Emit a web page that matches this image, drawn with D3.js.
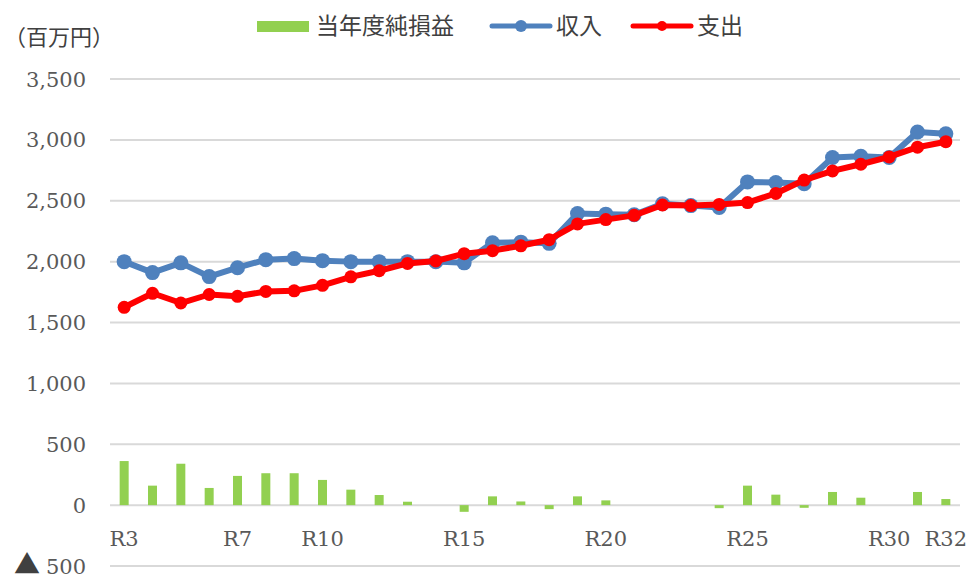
<!DOCTYPE html>
<html>
<head>
<meta charset="utf-8">
<script src="https://cdn.jsdelivr.net/npm/d3@7"></script>
<style>
  body { margin: 0; background: #fff; }
  svg { display: block; }
</style>
</head>
<body>
<div id="chart"></div>
<script>
// categories (fiscal years)
var years = ["R3","R4","R5","R6","R7","R8","R9","R10","R11","R12",
             "R13","R14","R15","R16","R17","R18","R19","R20","R21","R22",
             "R23","R24","R25","R26","R27","R28","R29","R30","R31","R32"];
var xTickLabels = ["R3","R7","R10","R15","R20","R25","R30","R32"];
var yTicks = [-500, 0, 500, 1000, 1500, 2000, 2500, 3000, 3500];

// 収入 (income)
var income = [2000, 1910, 1990, 1877, 1950, 2016, 2025, 2008, 2000, 2000,
              2000, 2000, 1990, 2155, 2160, 2150, 2395, 2390, 2385, 2475,
              2460, 2445, 2655, 2650, 2640, 2855, 2865, 2855, 3065, 3050];
// 支出 (expenditure)
var expense = [1625, 1740, 1660, 1730, 1715, 1755, 1760, 1805, 1875, 1925,
               1985, 2005, 2065, 2090, 2130, 2180, 2310, 2345, 2380, 2465,
               2460, 2470, 2485, 2560, 2670, 2745, 2800, 2860, 2940, 2985];
// 当年度純損益 (net)
var net = [362, 160, 340, 141, 240, 262, 262, 207, 127, 83,
           28, 0, -55, 72, 30, -33, 72, 39, 0, 0,
           0, -25, 160, 86, -22, 108, 61, 0, 108, 50];

var W = 970, H = 574;
var plotLeft = 110, plotRight = 960, plotTop = 79, plotBottom = 566;

var svg = d3.select("#chart").append("svg")
    .attr("width", W).attr("height", H);

var x = d3.scaleBand().domain(years).range([plotLeft, plotRight]);
var y = d3.scaleLinear().domain([-500, 3500]).range([plotBottom, plotTop]);
var cx = d => x(d) + x.bandwidth() / 2;

var serif = "'DejaVu Serif', serif";
var jp = "'Noto Sans CJK JP', sans-serif";

// grid
svg.append("g").selectAll("line").data(yTicks).join("line")
    .attr("x1", plotLeft).attr("x2", plotRight)
    .attr("y1", d => y(d)).attr("y2", d => y(d))
    .attr("stroke", "#d9d9d9").attr("stroke-width", 2);

// y labels (negative shown with ▲)
var yl = svg.append("g").selectAll("text").data(yTicks).join("text")
    .attr("x", 86).attr("y", d => y(d))
    .attr("dy", "0.36em")
    .attr("text-anchor", "end")
    .attr("font-family", serif).attr("font-size", 21)
    .attr("fill", "#595959");
yl.filter(d => d < 0).append("tspan")
    .attr("font-family", jp).attr("font-size", 26).attr("fill", "#404040")
    .text("▲ ");
yl.append("tspan").text(d => d3.format(",")(Math.abs(d)));

// x labels
svg.append("g").selectAll("text").data(xTickLabels).join("text")
    .attr("x", d => cx(d)).attr("y", 538)
    .attr("dy", "0.36em")
    .attr("text-anchor", "middle")
    .attr("font-family", serif).attr("font-size", 21)
    .attr("fill", "#595959")
    .text(d => d);

// bars
var bw = 9;
svg.append("g").selectAll("rect").data(years).join("rect")
    .attr("x", (d) => cx(d) - bw / 2)
    .attr("width", bw)
    .attr("y", (d, i) => y(Math.max(0, net[i])))
    .attr("height", (d, i) => Math.abs(y(net[i]) - y(0)))
    .attr("fill", "#92d050");

function drawLine(vals, color, r) {
  var pts = years.map((d, i) => [cx(d), y(vals[i])]);
  svg.append("path")
      .datum(pts)
      .attr("fill", "none")
      .attr("stroke", color)
      .attr("stroke-width", 6)
      .attr("stroke-linejoin", "round")
      .attr("d", d3.line());
  svg.append("g").selectAll("circle").data(pts).join("circle")
      .attr("cx", d => d[0]).attr("cy", d => d[1])
      .attr("r", r).attr("fill", color);
}
drawLine(income, "#4f81bd", 7.5);
drawLine(expense, "#ff0000", 6.5);

// unit label
svg.append("text").attr("x", 4).attr("y", 37)
    .attr("dy", "0.36em")
    .attr("font-family", jp).attr("font-size", 22).attr("fill", "#404040")
    .text("（百万円）");

// legend
var ly = 26;
svg.append("rect").attr("x", 257).attr("y", ly - 5).attr("width", 52).attr("height", 11)
    .attr("fill", "#92d050");
svg.append("text").attr("x", 316).attr("y", ly).attr("dy", "0.36em")
    .attr("font-family", jp).attr("font-size", 23).attr("fill", "#404040")
    .text("当年度純損益");

[["収入", "#4f81bd", 492, 7.5], ["支出", "#ff0000", 633, 6.5]].forEach(function (l) {
  svg.append("line").attr("x1", l[2]).attr("x2", l[2] + 58)
      .attr("y1", ly).attr("y2", ly)
      .attr("stroke", l[1]).attr("stroke-width", 5).attr("stroke-linecap", "round");
  svg.append("circle").attr("cx", l[2] + 29).attr("cy", ly).attr("r", l[3] - 1.5)
      .attr("fill", l[1]);
  svg.append("text").attr("x", l[2] + 64).attr("y", ly).attr("dy", "0.36em")
      .attr("font-family", jp).attr("font-size", 23).attr("fill", "#404040")
      .text(l[0]);
});
</script>
</body>
</html>
